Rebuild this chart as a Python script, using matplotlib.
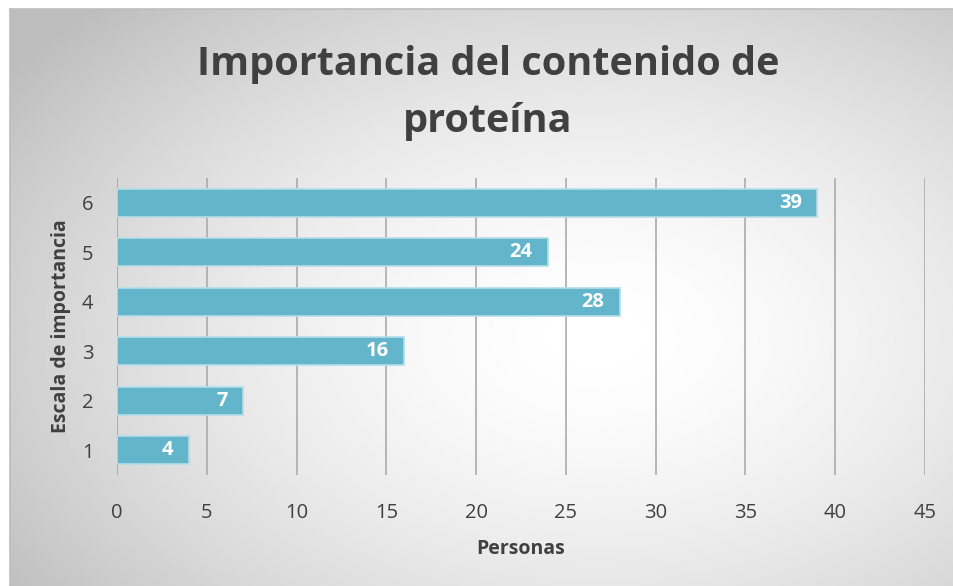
import numpy as np
import matplotlib
matplotlib.use("Agg")
import matplotlib.pyplot as plt

# data
escala = ["1", "2", "3", "4", "5", "6"]
personas = [4, 7, 16, 28, 24, 39]
xticks = [0, 5, 10, 15, 20, 25, 30, 35, 40, 45]

plt.rcParams['font.family'] = ['Open Sans', 'DejaVu Sans']
W, H = 954, 586
fig = plt.figure(figsize=(W / 100, H / 100), dpi=100)
fig.patch.set_facecolor('white')

# radial gradient background of the chart box
bg = fig.add_axes([10 / W, 0, 1 - 10 / W, 1 - 9 / H])
yy, xx = np.mgrid[0:300, 0:500]
cx, cy = 310, 170
r = np.sqrt(((xx - cx) / 480) ** 2 + ((yy - cy) / 300) ** 2)
shade = 1.0 - 0.26 * np.clip(r / 0.8, 0, 1) ** 1.6
bg.imshow(shade, cmap='gray', vmin=0, vmax=1, aspect='auto',
          interpolation='bilinear')
bg.set_axis_off()
fig.add_artist(plt.Line2D([10 / W, 1], [1 - 9 / H, 1 - 9 / H], color='#bdbdbd', lw=1.2))
fig.add_artist(plt.Line2D([10 / W, 10 / W], [0, 1 - 9 / H], color='#bdbdbd', lw=1.2))

ax = fig.add_axes([117 / W, 1 - 475 / H, (925 - 117) / W, (475 - 178) / H])
ax.set_facecolor('none')
y = np.arange(len(escala))
bars = ax.barh(y, personas, height=0.57, color='#62b5cb',
               edgecolor='#b3dde8', linewidth=1.2, zorder=3)
for b, v in zip(bars, personas):
    ax.text(b.get_width() - 0.85, b.get_y() + b.get_height() / 2, str(v),
            ha='right', va='center', color='white', fontsize=14.5,
            fontweight='bold', zorder=4)

ax.set_xlim(0, 45)
ax.set_ylim(-0.5, 5.5)
ax.set_yticks(y)
ax.set_yticklabels(escala)
ax.set_xticks(xticks)
ax.grid(axis='x', color='#ababab', lw=1.2, zorder=0)
for s in ax.spines.values():
    s.set_visible(False)
ax.axvline(0, color='#ababab', lw=1.2, zorder=1)
ax.tick_params(length=0, labelsize=14.5, colors='#404040')
ax.tick_params(axis='x', pad=20)
ax.tick_params(axis='y', pad=17)
ax.set_xlabel('Personas', fontsize=14, fontweight='bold', color='#404040', labelpad=12)
ax.set_ylabel('Escala de importancia', fontsize=14, fontweight='bold', color='#404040')
ax.yaxis.set_label_coords(-46 / (925 - 117), 0.5)

fig.text(488 / W, 1 - 93 / H, 'Importancia del contenido de\nproteína',
         ha='center', va='center', fontsize=28.5, fontweight='bold',
         color='#404040', linespacing=1.6)

fig.savefig('out.png', dpi=100)
